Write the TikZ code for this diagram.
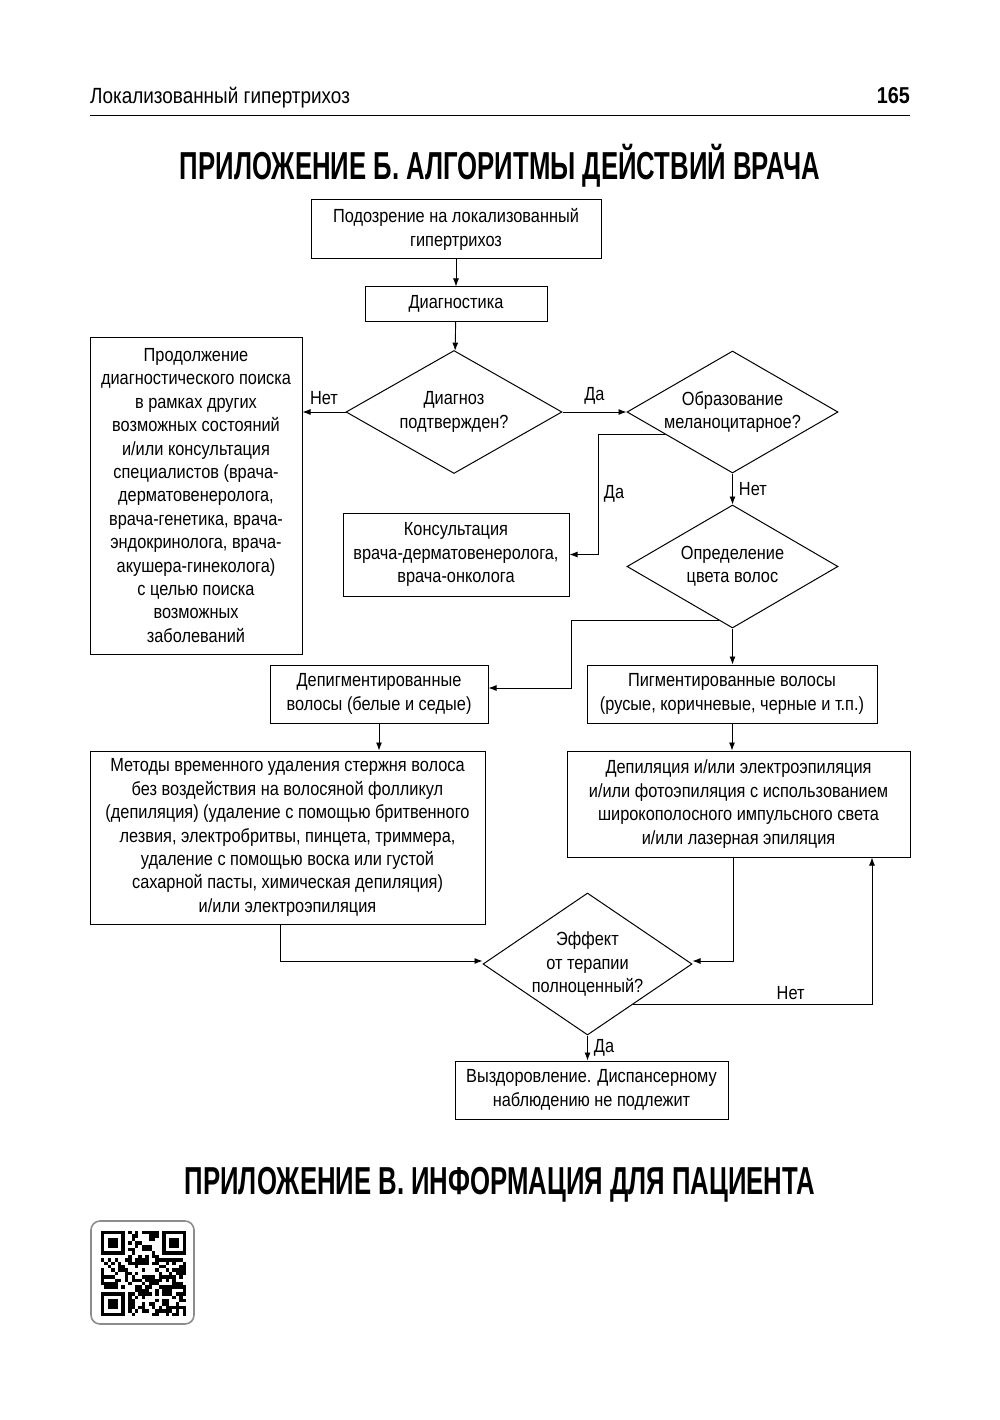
\documentclass[tikz,border=0pt]{standalone}
\usepackage{fontspec}
\setmainfont{Liberation Sans}[FakeStretch=0.86]
\newfontfamily\headfont{Liberation Sans}[FakeStretch=0.66]
\usetikzlibrary{arrows.meta, calc, positioning, shapes.geometric}
\def\bodysize{\fontsize{19}{23.4}\selectfont}

\tikzset{
  box/.style={draw, line width=1pt, align=center, inner sep=0pt, font=\bodysize},
  decision/.style={draw, diamond, line width=1pt, align=center, inner sep=0pt,
                   shape aspect=1.75, font=\bodysize},
  arr/.style={line width=0.9pt, -{Latex[length=8pt,width=6pt]}},
  lbl/.style={font=\bodysize, inner sep=0pt},
  headline/.style={font=\headfont\bfseries\fontsize{39}{42}\selectfont, inner sep=0pt, anchor=base},
}

\begin{document}
\begin{tikzpicture}[x=1pt, y=-1pt]
  \useasboundingbox (0,0) rectangle (1000,1420);
  % running head
  \node[anchor=base west, inner sep=0pt, font=\fontsize{22}{26}\selectfont] (running) at (90,104) {Локализованный гипертрихоз};
  \node[anchor=base east, inner sep=0pt, font=\bfseries\fontsize{23}{26}\selectfont] (pageno) at (910,104) {165};
  \draw[line width=1pt] (90,116) -- (910,116);
  \node[headline] (titleB) at (500,180) {ПРИЛОЖЕНИЕ Б. АЛГОРИТМЫ ДЕЙСТВИЙ ВРАЧА};

  % flow chart
  \node[box, minimum width=290pt, minimum height=59pt] (susp) at (456,229.5) {Подозрение на локализованный\\гипертрихоз};
  \node[box, minimum width=182pt, minimum height=34pt] (diag) at (456,304) {Диагностика};
  \node[decision, minimum width=216pt, minimum height=123pt] (dconf) at (454,412) {Диагноз\\подтвержден?};
  \node[box, minimum width=212pt, minimum height=317pt] (search) at (196,495.5) {Продолжение\\диагностического поиска\\в рамках других\\возможных состояний\\и/или консультация\\специалистов (врача-\\дерматовенеролога,\\врача-генетика, врача-\\эндокринолога, врача-\\акушера-гинеколога)\\с целью поиска\\возможных\\заболеваний};
  \node[decision, minimum width=211pt, minimum height=122pt] (dmel) at (732.5,412) {Образование\\меланоцитарное?};
  \node[box, minimum width=226pt, minimum height=83pt] (consult) at (456,554.5) {Консультация\\врача-дерматовенеролога,\\врача-онколога};
  \node[decision, minimum width=211pt, minimum height=123pt] (dcol) at (732.5,566.5) {Определение\\цвета волос};
  \node[box, minimum width=218pt, minimum height=58pt] (depig) at (379,694) {Депигментированные\\волосы (белые и седые)};
  \node[box, minimum width=290pt, minimum height=58pt] (pig) at (732,694) {Пигментированные волосы\\(русые, коричневые, черные и т.п.)};
  \node[box, minimum width=395pt, minimum height=173pt] (meth) at (287.5,837.5) {Методы временного удаления стержня волоса\\без воздействия на волосяной фолликул\\(депиляция) (удаление с помощью бритвенного\\лезвия, электробритвы, пинцета, триммера,\\удаление с помощью воска или густой\\сахарной пасты, химическая депиляция)\\и/или электроэпиляция};
  \node[box, minimum width=343pt, minimum height=106pt] (depil) at (738.5,804) {Депиляция и/или электроэпиляция\\и/или фотоэпиляция с использованием\\широкополосного импульсного света\\и/или лазерная эпиляция};
  \node[decision, shape aspect=1.5, inner sep=-5pt, minimum width=209pt, minimum height=142pt] (deff) at (587.5,964) {Эффект\\от терапии\\полноценный?};
  \node[box, minimum width=273pt, minimum height=58pt] (recov) at (591.5,1090) {Выздоровление. Диспансерному\\наблюдению не подлежит};

  % connectors
  \draw[arr] (susp) -- (diag);
  \draw[arr] (diag) -- (dconf);
  \draw[arr] (dconf.west) -- (dconf.west -| search.east) node[lbl, midway, above=7pt] {Нет};
  \draw[arr] (dconf.east) -- (dmel.west) node[lbl, midway, above=7pt] {Да};
  \draw[arr] ($(dmel.west)!0.36!(dmel.south)$) -| ([xshift=29pt]consult.east) node[lbl, pos=0.75, right=5pt] {Да} -- (consult.east);
  \draw[arr] (dmel.south) -- (dcol.north) node[lbl, midway, right=6pt] {Нет};
  \draw[arr] (dcol.south) -- (dcol.south |- pig.north);
  \draw[arr] ($(dcol.west)!0.87!(dcol.south)$) -| ([xshift=83pt, yshift=6pt]depig.east) -- ([yshift=6pt]depig.east);
  \draw[arr] (depig.south) -- (depig.south |- meth.north);
  \draw[arr] (pig.south) -- (pig.south |- depil.north);
  \draw[arr] ([xshift=-7.5pt]meth.south) |- ([yshift=3pt]deff.west);
  \draw[arr] ([xshift=-5.5pt]depil.south) |- ([yshift=3pt]deff.east);
  \draw[arr] ($(deff.south)!0.43!(deff.east)$) -| ([xshift=133.5pt]depil.south) node[lbl, pos=0.33, above=5pt] {Нет};
  \draw[arr] (deff.south) -- (deff.south |- recov.north) node[lbl, midway, right=6pt] {Да};

  \node[headline] (titleC) at (500,1194) {ПРИЛОЖЕНИЕ В. ИНФОРМАЦИЯ ДЛЯ ПАЦИЕНТА};

  % QR code
  \draw[black!45, line width=1.6pt, rounded corners=9pt] (91,1221) rectangle (194,1324);
  \pgfmathsetseed{165}
  \foreach \i in {0,...,24}
    \foreach \j in {0,...,24} {
      \pgfmathtruncatemacro\infinder{((\i<8)&&(\j<8)) || ((\i>16)&&(\j<8)) || ((\i<8)&&(\j>16))}
      \pgfmathtruncatemacro\ison{rnd<0.5}
      \ifnum\infinder=0 \ifnum\ison=1
        \fill (101+\i*3.4, 1231+\j*3.4) rectangle ++(3.4,3.4);
      \fi\fi
    }
  \foreach \cx/\cy in {0/0, 18/0, 0/18} {
    \fill (101+\cx*3.4, 1231+\cy*3.4) rectangle ++(23.8,23.8);
    \fill[white] (104.4+\cx*3.4, 1234.4+\cy*3.4) rectangle ++(17,17);
    \fill (107.8+\cx*3.4, 1237.8+\cy*3.4) rectangle ++(10.2,10.2);
  }
\end{tikzpicture}
\end{document}
